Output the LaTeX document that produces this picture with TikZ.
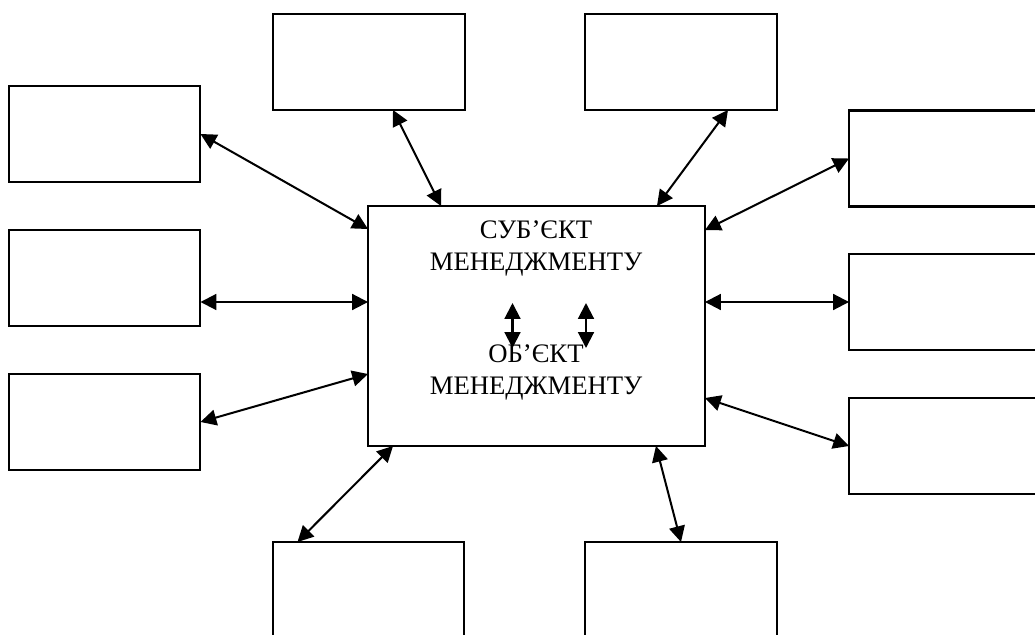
\documentclass[tikz,border=0pt]{standalone}
\usepackage{fontspec}
\setmainfont{Liberation Serif}
\usetikzlibrary{
	arrows.meta,   %箭头
	calc,          %计算
	positioning    %定位
}
\tikzset{
	every picture/.style={
		>={Triangle[length=9pt,width=9pt]}
}}
\tikzset{box/.style={draw,line width=1.15pt,
		minimum width=3.84cm,minimum height=1.92cm,
		inner sep=0pt,outer sep=0pt}}
\tikzset{arr/.style={<->,line width=1.15pt}}
\tikzset{txt/.style={font=\fontsize{15.2pt}{18.2pt}\selectfont,align=center,inner sep=0pt}}

\begin{document}
\begin{tikzpicture}[x=0.02cm,y=-0.02cm]
\useasboundingbox (0,0) rectangle (1035,635);

%中间的大框
\node[box,minimum width=6.74cm,minimum height=4.8cm] (c) at (536.5,326) {};
\node[txt] (subj) at (536,248) {СУБ’ЄКТ\\МЕНЕДЖМЕНТУ};
\node[txt] (obj) at (536,372) {ОБ’ЄКТ\\МЕНЕДЖМЕНТУ};

%四周的空框
\node[box] (tl) at (369,62) {};
\node[box] (tr) at (681,62) {};
\node[box] (l1) at (104.5,134) {};
\node[box] (l2) at (104.5,278) {};
\node[box] (l3) at (104.5,422) {};
\node[box] (r1) at (945,158.5) {};
\node[box] (r2) at (945,302) {};
\node[box] (r3) at (945,446) {};
\node[box] (bl) at (368.5,590) {};
\node[box] (br) at (681,590) {};

%左侧箭头
\draw[arr] (l1.east) -- ($(c.north west)+(0,23)$);
\draw[arr] ($(l2.east)+(0,24)$) -- ($(c.west)+(0,-24)$);
\draw[arr] (l3.east) -- ($(c.west)+(0,48)$);
%上方箭头
\draw[arr] ($(tl.south)+(24,0)$) -- ($(c.north west)+(73,0)$);
\draw[arr] ($(tr.south)+(47,0)$) -- ($(c.north east)+(-48,0)$);
%右侧箭头
\draw[arr] (r1.west) -- ($(c.north east)+(0,24)$);
\draw[arr] (r2.west) -- ($(c.east)+(0,-24)$);
\draw[arr] ($(c.east)+(0,72)$) -- (r3.west);
%下方箭头
\draw[arr] ($(c.south west)+(25,0)$) -- ($(bl.north)+(-71,0)$);
\draw[arr] ($(c.south east)+(-49,0)$) -- (br.north);

%主体与客体之间
\foreach \dx in {-24,49.5}
\draw[arr] ($(c.center)+(\dx,-23)$) -- ($(c.center)+(\dx,22)$);

\end{tikzpicture}
\end{document}
